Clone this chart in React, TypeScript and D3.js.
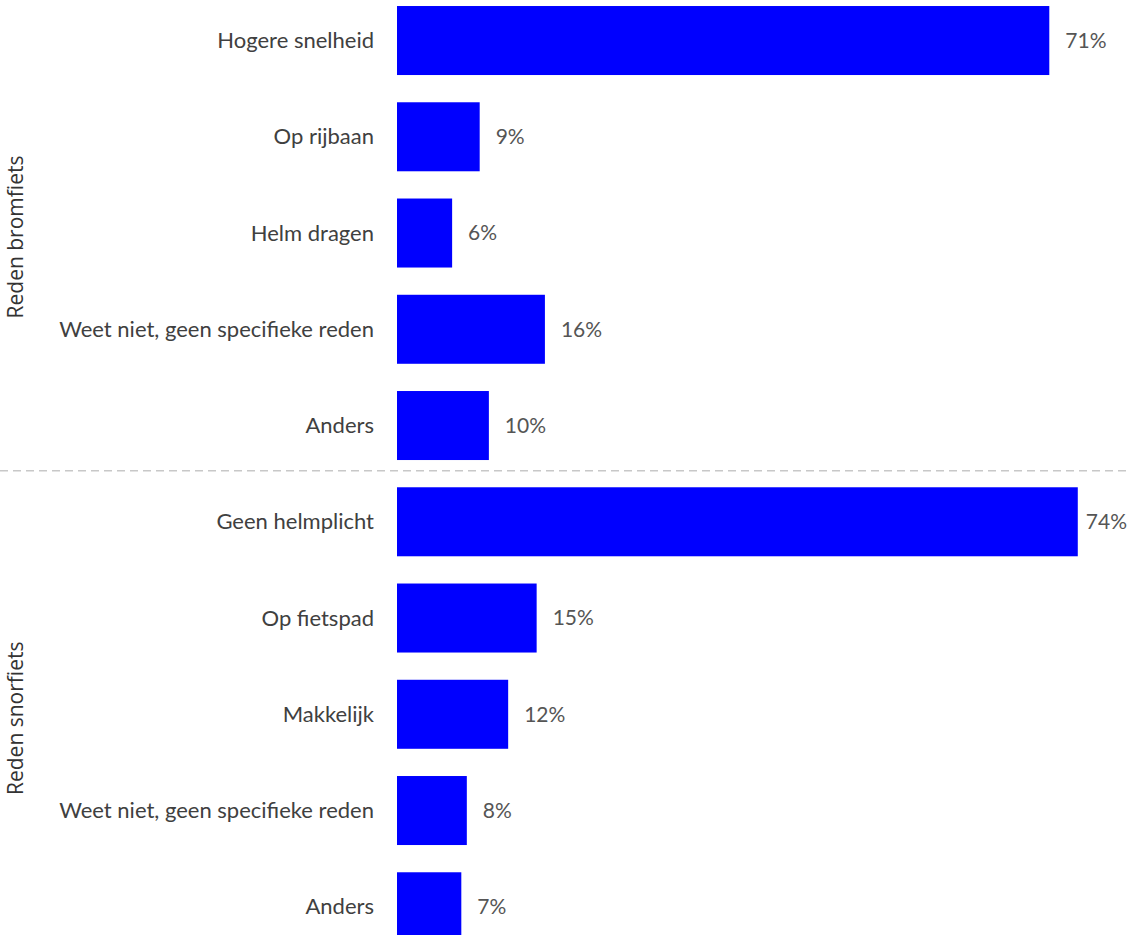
import React from "react";
import * as d3 from "d3";

const groups = ["Reden bromfiets", "Reden snorfiets"];
const categoriesBrom = ["Hogere snelheid", "Op rijbaan", "Helm dragen", "Weet niet, geen specifieke reden", "Anders"];
const valuesBrom = [71, 9, 6, 16.1, 10];
const labelsBrom = ["71%", "9%", "6%", "16%", "10%"];
const categoriesSnor = ["Geen helmplicht", "Op fietspad", "Makkelijk", "Weet niet, geen specifieke reden", "Anders"];
const valuesSnor = [74.1, 15.2, 12.1, 7.6, 7];
const labelsSnor = ["74%", "15%", "12%", "8%", "7%"];

const W = 1130;
const H = 935;

export default function App() {
  const rows = [
    ...categoriesBrom.map((c, i) => ({ key: "b" + i, cat: c, v: valuesBrom[i], lab: labelsBrom[i], g: 0 })),
    ...categoriesSnor.map((c, i) => ({ key: "s" + i, cat: c, v: valuesSnor[i], lab: labelsSnor[i], g: 1 })),
  ];
  const x = d3.scaleLinear().domain([0, 71]).range([397, 1049.3]);
  const y = d3
    .scaleBand<string>()
    .domain(rows.map((r) => r.key))
    .range([-7.6, 954.9])
    .paddingInner(0.283)
    .paddingOuter(0.1415);
  const bw = y.bandwidth();
  const groupCenter = (g: number) => {
    const rs = rows.filter((r) => r.g === g);
    const a = y(rs[0].key)!;
    const b = y(rs[rs.length - 1].key)! + bw;
    return (a + b) / 2;
  };
  const sepY = (y(rows[4].key)! + bw + y(rows[5].key)!) / 2 - 3;
  const font = "Lato, 'Open Sans', sans-serif";
  const labelRight = W - 3;
  return (
    <svg width={W} height={H} style={{ position: "absolute", left: 0, top: 0, display: "block" }}>
      <rect x={0} y={0} width={W} height={H} fill="#fff" />
      {rows.map((r) => {
        const cy = y(r.key)! + bw / 2;
        const lx = x(r.v) + 16;
        const overflow = lx + 42 > labelRight;
        return (
          <g key={r.key}>
            <rect x={x(0)} y={y(r.key)!} width={x(r.v) - x(0)} height={bw} fill="#0000ff" />
            <text x={374} y={cy} dy="0.35em" textAnchor="end" fontFamily={font} fontSize={22} fill="#404040">
              {r.cat}
            </text>
            <text
              x={overflow ? labelRight : lx}
              y={cy}
              dy="0.35em"
              textAnchor={overflow ? "end" : "start"}
              fontFamily={font}
              fontSize={21}
              fill="#555"
            >
              {r.lab}
            </text>
          </g>
        );
      })}
      <line x1={0} x2={W} y1={sepY} y2={sepY} stroke="#c8c8c8" strokeWidth={1.5} strokeDasharray="8,5" />
      {groups.map((g, i) => (
        <text
          key={g}
          transform={`translate(16,${groupCenter(i) + 4}) rotate(-90)`}
          dy="0.35em"
          textAnchor="middle"
          fontFamily="'Open Sans', sans-serif"
          fontSize={21}
          fill="#333"
        >
          {g}
        </text>
      ))}
    </svg>
  );
}
